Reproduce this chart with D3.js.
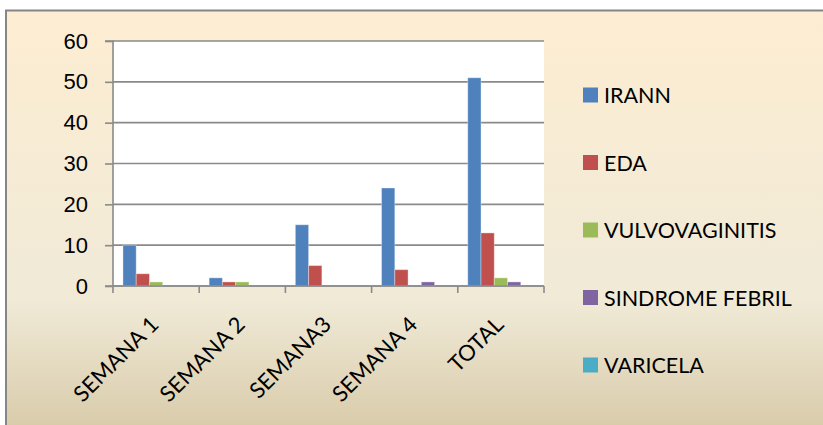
<!DOCTYPE html>
<html lang="es">
<head>
    <meta charset="UTF-8">
    <title>Casos por semana</title>
    <style>
        body { margin: 0; background: #fff; }
        svg { display: block; font-family: 'Lato', sans-serif; }
        .axis text { font-size: 22px; fill: #000; }
        .legend text { font-size: 21.5px; fill: #000; }
    </style>
</head>
<body>
<div id="chart"></div>
<script src="https://d3js.org/d3.v7.min.js"></script>
<script>
    // datos
    const categories = ['SEMANA 1', 'SEMANA 2', 'SEMANA3', 'SEMANA 4', 'TOTAL'];
    const seriesNames = ['IRANN', 'EDA', 'VULVOVAGINITIS', 'SINDROME FEBRIL', 'VARICELA'];
    const irann = [10, 2, 15, 24, 51];
    const eda = [3, 1, 5, 4, 13];
    const vulvovaginitis = [1, 1, 0, 0, 2];
    const sindromeFebril = [0, 0, 0, 1, 1];
    const varicela = [0, 0, 0, 0, 0];
    const yTicks = [0, 10, 20, 30, 40, 50, 60];
    const colors = ['#4F81BD', '#C0504D', '#9BBB59', '#8064A2', '#4BACC6'];

    const values = [irann, eda, vulvovaginitis, sindromeFebril, varicela];
    const rows = [];
    categories.forEach((c, i) => {
        seriesNames.forEach((s, j) => rows.push({cat: c, serie: s, value: values[j][i]}));
    });

    const W = 823, H = 425;
    const plot = {left: 113, top: 41, right: 544, bottom: 286};

    const svg = d3.select('#chart').append('svg')
        .attr('width', W)
        .attr('height', H);

    const defs = svg.append('defs');
    const grad = defs.append('linearGradient')
        .attr('id', 'fondo')
        .attr('x1', 0).attr('y1', 0).attr('x2', 0).attr('y2', 1);
    grad.append('stop').attr('offset', '0%').attr('stop-color', '#FDEDD2');
    grad.append('stop').attr('offset', '65%').attr('stop-color', '#F0EAD7');
    grad.append('stop').attr('offset', '100%').attr('stop-color', '#D4C5A1');

    // marco del gráfico (se sale por la derecha y abajo)
    svg.append('rect')
        .attr('x', 6).attr('y', 10.5)
        .attr('width', W + 20).attr('height', H + 20)
        .attr('fill', 'url(#fondo)')
        .attr('stroke', '#868686')
        .attr('stroke-width', 2);

    // área de trazado
    svg.append('rect')
        .attr('x', plot.left).attr('y', plot.top)
        .attr('width', plot.right - plot.left)
        .attr('height', plot.bottom - plot.top)
        .attr('fill', '#fff');

    const x0 = d3.scaleBand()
        .domain(categories)
        .range([plot.left, plot.right]);

    const x1 = d3.scaleBand()
        .domain(seriesNames)
        .range([0, x0.bandwidth()])
        .paddingInner(0)
        .paddingOuter(0.75);

    const y = d3.scaleLinear()
        .domain([0, 60])
        .range([plot.bottom, plot.top]);

    const color = d3.scaleOrdinal().domain(seriesNames).range(colors);

    // líneas de cuadrícula
    svg.append('g')
        .selectAll('line')
        .data(yTicks)
        .join('line')
        .attr('x1', plot.left).attr('x2', plot.right)
        .attr('y1', d => y(d)).attr('y2', d => y(d))
        .attr('stroke', '#8a8a8a')
        .attr('stroke-width', 1.6);

    // eje Y
    const yAxis = svg.append('g')
        .attr('class', 'axis')
        .attr('transform', `translate(${plot.left},0)`)
        .call(d3.axisLeft(y).tickValues(yTicks).tickSize(8).tickPadding(17));
    yAxis.selectAll('line, path').attr('stroke', '#8a8a8a').attr('stroke-width', 1.6);
    yAxis.select('.domain').attr('d', `M-8,${plot.top}H0V${plot.bottom}`);

    // barras
    svg.append('g')
        .selectAll('rect')
        .data(rows.filter(d => d.value > 0))
        .join('rect')
        .attr('x', d => x0(d.cat) + x1(d.serie))
        .attr('y', d => y(d.value))
        .attr('width', x1.bandwidth())
        .attr('height', d => y(0) - y(d.value))
        .attr('fill', d => color(d.serie))
        .attr('stroke', 'rgba(255,255,255,0.35)')
        .attr('stroke-width', 1);

    // eje X
    const xg = svg.append('g')
        .attr('class', 'axis')
        .attr('transform', `translate(0,${plot.bottom})`);
    xg.append('line')
        .attr('x1', plot.left - 8).attr('x2', plot.right)
        .attr('stroke', '#8a8a8a').attr('stroke-width', 1.6);
    const bounds = categories.map(c => x0(c)).concat([plot.right]);
    xg.selectAll('.tick')
        .data(bounds)
        .join('line')
        .attr('x1', d => d).attr('x2', d => d)
        .attr('y1', 0).attr('y2', 7)
        .attr('stroke', '#8a8a8a').attr('stroke-width', 1.6);
    xg.selectAll('text')
        .data(categories)
        .join('text')
        .attr('text-anchor', 'end')
        .attr('transform', d => `translate(${x0(d) + x0.bandwidth() / 2 + 4},${40}) rotate(-45)`)
        .text(d => d);

    // leyenda
    const legend = svg.append('g').attr('class', 'legend');
    const ly = d3.scalePoint().domain(seriesNames).range([95, 365]);
    const item = legend.selectAll('g')
        .data(seriesNames)
        .join('g')
        .attr('transform', d => `translate(583,${ly(d)})`);
    item.append('rect')
        .attr('x', 0).attr('y', -7.5)
        .attr('width', 15).attr('height', 15)
        .attr('fill', d => color(d));
    item.append('text')
        .attr('x', 21).attr('y', 8)
        .text(d => d);
</script>
</body>
</html>
